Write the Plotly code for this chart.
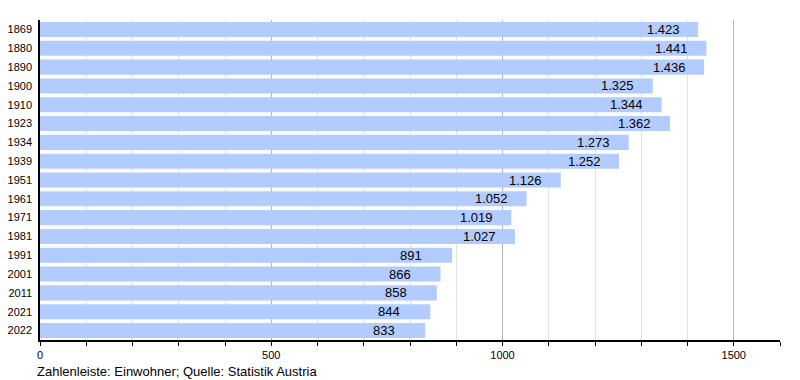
import plotly.graph_objects as go

years = ["1869", "1880", "1890", "1900", "1910", "1923", "1934", "1939", "1951",
         "1961", "1971", "1981", "1991", "2001", "2011", "2021", "2022"]
population = [1423, 1441, 1436, 1325, 1344, 1362, 1273, 1252, 1126,
              1052, 1019, 1027, 891, 866, 858, 844, 833]
x_ticks = [0, 500, 1000, 1500]


def fmt(v):
    return f"{v:,}".replace(",", ".")


font = "Liberation Sans, Arial, sans-serif"

fig = go.Figure(go.Bar(
    x=population, y=years, orientation="h",
    marker=dict(color="rgb(179,204,255)", line=dict(width=0)),
    hoverinfo="skip",
))

for i, v in enumerate(population):
    lab = fmt(v)
    fig.add_annotation(x=v, y=i, text=lab, showarrow=False, xanchor="center",
                       xshift=-35 if len(lab) > 3 else -41,
                       font=dict(family=font, size=13, color="black"))

fig.add_annotation(xref="paper", yref="paper", x=-0.007, y=-0.097, xanchor="left",
                   yanchor="middle", text="Zahlenleiste: Einwohner; Quelle: Statistik Austria",
                   showarrow=False, font=dict(family=font, size=13, color="black"))

fig.update_layout(
    width=792, height=372,
    margin=dict(l=32, r=20, t=12, b=40),
    plot_bgcolor="white", paper_bgcolor="white",
    bargap=0.2, showlegend=False,
    font=dict(family=font, size=11, color="black"),
    xaxis=dict(range=[0, 1600], tickvals=x_ticks, ticktext=[str(t) for t in x_ticks],
               showgrid=True, gridcolor="#b4b4b4", gridwidth=1,
               showline=True, linecolor="black", linewidth=1.5,
               ticks="outside", ticklen=4, tickcolor="black", zeroline=False,
               minor=dict(dtick=100, tick0=0, showgrid=True, gridcolor="#e2e2e2",
                          ticks="outside", ticklen=4, tickcolor="black"),
               tickfont=dict(size=11), automargin=False),
    yaxis=dict(type="category", categoryorder="array", categoryarray=years,
               autorange="reversed", showline=True, linecolor="black", linewidth=1.5,
               ticks="", tickfont=dict(size=11), automargin=False,
               ticklabelstandoff=4),
)

fig.write_html("out.html")
